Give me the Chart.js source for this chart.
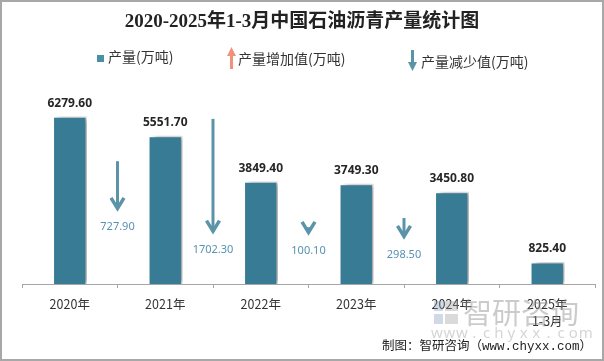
<!DOCTYPE html>
<html>
<head>
<meta charset="utf-8">
<script src="https://cdn.jsdelivr.net/npm/chart.js@4.4.0/dist/chart.umd.min.js"></script>
<style>
	html, body { margin: 0; padding: 0; background: #fff; }
	#wrap { width: 604px; height: 361px; position: relative; }
</style>
</head>
<body>
<div id="wrap"><canvas id="outputChart" width="604" height="361"></canvas></div>
<script>
// 데이터
var years = [['2020年'], ['2021年'], ['2022年'], ['2023年'], ['2024年'], ['2025年', '1-3月']];
var outputValues = [6279.60, 5551.70, 3849.40, 3749.30, 3450.80, 825.40];
var changeValues = [-727.90, -1702.30, -100.10, -298.50];

var chartTitle = '2020-2025年1-3月中国石油沥青产量统计图';
var legendTexts = ['产量(万吨)', '产量增加值(万吨)', '产量减少值(万吨)'];

var BAR_COLOR = '#377b94';
var DOWN_COLOR = '#5b93a9';
var UP_COLOR = '#f2917b';
var ARROW_SCALE = 2.5;

/********************************************************
 * 막대 그림자
 ********************************************************/
var shadowPlugin = {
	id: 'barShadow',
	beforeDatasetsDraw: function(chart) {
		var ctx = chart.ctx;
		ctx.save();
		ctx.shadowColor = 'rgba(0,0,0,0.38)';
		ctx.shadowBlur = 5;
		ctx.shadowOffsetX = 4;
		ctx.shadowOffsetY = 0;
	},
	afterDatasetsDraw: function(chart) {
		chart.ctx.restore();
	}
};

/********************************************************
 * 값 라벨 / 증감 화살표
 ********************************************************/
var markPlugin = {
	id: 'marks',
	afterDatasetsDraw: function(chart) {
		var ctx = chart.ctx;
		var xScale = chart.scales.x;
		var yScale = chart.scales.y;
		var meta = chart.getDatasetMeta(0);

		ctx.save();
		ctx.textAlign = 'center';
		ctx.textBaseline = 'middle';
		ctx.fillStyle = '#262626';
		ctx.font = 'bold 12px "Noto Sans", sans-serif';
		meta.data.forEach(function(bar, i) {
			ctx.fillText(outputValues[i].toFixed(2), bar.x, bar.y - 13);
		});

		changeValues.forEach(function(diff, i) {
			var x = (xScale.getPixelForValue(i) + xScale.getPixelForValue(i + 1)) / 2;
			var lower = Math.min(outputValues[i], outputValues[i + 1]);
			var tipVal = lower / 2;
			var endVal = tipVal + Math.abs(diff) * ARROW_SCALE;
			var down = diff < 0;
			var yTip = yScale.getPixelForValue(down ? tipVal : endVal);
			var yTail = yScale.getPixelForValue(down ? endVal : tipVal);
			var color = down ? DOWN_COLOR : UP_COLOR;
			var dir = down ? 1 : -1;

			ctx.strokeStyle = color;
			ctx.lineWidth = 3;
			ctx.lineCap = 'butt';
			ctx.beginPath();
			ctx.moveTo(x, yTail);
			ctx.lineTo(x, yTip - dir * 2);
			ctx.stroke();

			ctx.lineWidth = 3.5;
			ctx.lineJoin = 'miter';
			ctx.beginPath();
			ctx.moveTo(x - 6.5, yTip - dir * 12);
			ctx.lineTo(x, yTip - dir * 1.5);
			ctx.lineTo(x + 6.5, yTip - dir * 12);
			ctx.stroke();

			ctx.fillStyle = '#5792b0';
			ctx.font = '11px "Noto Sans", sans-serif';
			var labelY = down ? yTip + 17 : yTail + 17;
			ctx.fillText(Math.abs(diff).toFixed(2), x, labelY);
		});
		ctx.restore();
	}
};

/********************************************************
 * 제목 / 범례 / 워터마크
 ********************************************************/
function drawLegendArrow(ctx, x, top, bottom, color, up) {
	ctx.fillStyle = color;
	ctx.beginPath();
	if (up) {
		ctx.moveTo(x, top);
		ctx.lineTo(x + 4.5, top + 9);
		ctx.lineTo(x + 1.5, top + 9);
		ctx.lineTo(x + 1.5, bottom);
		ctx.lineTo(x - 1.5, bottom);
		ctx.lineTo(x - 1.5, top + 9);
		ctx.lineTo(x - 4.5, top + 9);
	} else {
		ctx.moveTo(x, bottom);
		ctx.lineTo(x + 4.5, bottom - 9);
		ctx.lineTo(x + 1.5, bottom - 9);
		ctx.lineTo(x + 1.5, top);
		ctx.lineTo(x - 1.5, top);
		ctx.lineTo(x - 1.5, bottom - 9);
		ctx.lineTo(x - 4.5, bottom - 9);
	}
	ctx.closePath();
	ctx.fill();
}

var decoPlugin = {
	id: 'deco',
	afterDraw: function(chart) {
		var ctx = chart.ctx;
		ctx.save();

		// 제목
		ctx.textAlign = 'center';
		ctx.textBaseline = 'middle';
		ctx.fillStyle = '#222';
		ctx.font = 'bold 19px "Liberation Serif", "Noto Sans CJK SC", serif';
		ctx.fillText(chartTitle, 302, 22);

		// 범례
		ctx.textAlign = 'left';
		ctx.font = '14px "Noto Sans CJK SC", sans-serif';
		ctx.fillStyle = '#4a8fa6';
		ctx.fillRect(97, 55, 7, 7);
		ctx.fillStyle = '#333';
		ctx.fillText(legendTexts[0], 108, 57);

		drawLegendArrow(ctx, 231.5, 47, 69, UP_COLOR, true);
		ctx.fillStyle = '#333';
		ctx.fillText(legendTexts[1], 238, 59);

		drawLegendArrow(ctx, 412.5, 50, 71, DOWN_COLOR, false);
		ctx.fillStyle = '#333';
		ctx.fillText(legendTexts[2], 421, 62);

		// 워터마크
		ctx.fillStyle = 'rgba(120,150,185,0.35)';
		ctx.fillRect(434, 301, 9, 10);
		ctx.fillRect(434, 314, 9, 10);
		ctx.fillStyle = 'rgba(150,150,150,0.35)';
		ctx.fillRect(445, 301, 13, 10);
		ctx.fillRect(445, 314, 13, 10);
		ctx.font = '29px "Noto Sans CJK SC", sans-serif';
		ctx.fillStyle = 'rgba(140,140,140,0.45)';
		ctx.fillText('智研咨询', 463, 313);
		ctx.font = '15px "Noto Sans", sans-serif';
		ctx.fillStyle = 'rgba(150,150,150,0.4)';
		ctx.textAlign = 'center';
		var site = 'www.chyxx.com';
		for (var i = 0; i < site.length; i++) {
			ctx.fillText(site[i], 437 + i * 12.4, 334);
		}

		// 출처
		ctx.textAlign = 'right';
		ctx.fillStyle = '#222';
		ctx.font = '12.5px "Liberation Mono", "Noto Sans CJK SC", monospace';
		ctx.fillText('制图：智研咨询（www.chyxx.com）', 592, 347);

		// 테두리
		ctx.strokeStyle = '#a8a8a8';
		ctx.lineWidth = 2;
		ctx.strokeRect(1, 1, 602, 359);
		ctx.restore();
	}
};

function getOutputChartOption() {
	var options = {
		type: 'bar',
		data: {
			labels: years,
			datasets: [
				{
					label: legendTexts[0],
					data: outputValues,
					backgroundColor: BAR_COLOR,
					borderColor: '#ffffff',
					borderWidth: 1.5,
					barPercentage: 0.36,
					categoryPercentage: 1
				}
			]
		},
		options: {
			responsive: false,
			devicePixelRatio: 1,
			animation: false,
			layout: {
				padding: { left: 22, right: 9, top: 97, bottom: 23 }
			},
			plugins: {
				legend: { display: false },
				title: { display: false },
				tooltip: { enabled: false }
			},
			scales: {
				x: {
					grid: {
						display: true,
						drawOnChartArea: false,
						drawTicks: true,
						tickLength: 4,
						color: '#a6a6a6'
					},
					border: { display: true, color: '#a6a6a6', width: 1 },
					ticks: {
						color: '#333',
						padding: 8,
						font: { size: 12.5, family: '"Noto Sans CJK SC", sans-serif', lineHeight: 1.36 }
					}
				},
				y: {
					display: false,
					min: 0,
					max: 7000
				}
			}
		},
		plugins: [shadowPlugin, markPlugin, decoPlugin]
	};
	return options;
}

var _outputChart = new Chart(document.getElementById('outputChart'), getOutputChartOption());
</script>
</body>
</html>
